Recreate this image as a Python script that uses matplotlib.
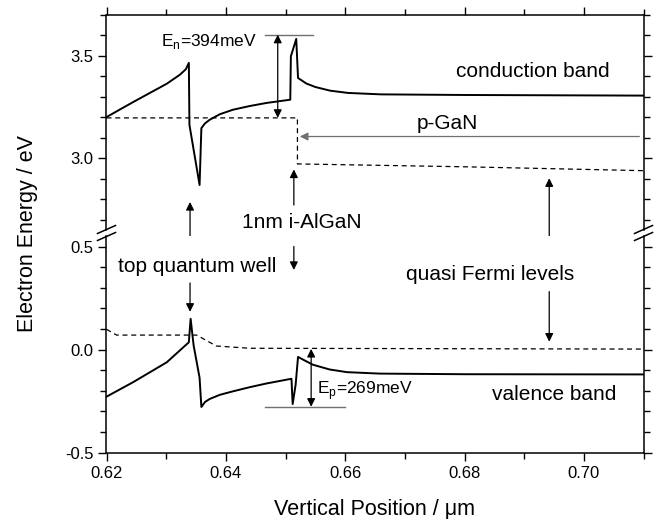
import matplotlib
matplotlib.use('Agg')
import matplotlib.pyplot as plt
from matplotlib.lines import Line2D
from matplotlib.ticker import MultipleLocator

plt.rcParams['font.family'] = ['Liberation Sans', 'DejaVu Sans']
plt.rcParams['mathtext.fontset'] = 'custom'
plt.rcParams['mathtext.rm'] = 'Liberation Sans'
plt.rcParams['axes.unicode_minus'] = False

# conduction band (eV) vs vertical position (um)
x_cb = [0.620, 0.6245, 0.6301, 0.6323, 0.6333, 0.6338, 0.6339, 0.6356, 0.6359,
        0.6365, 0.6373, 0.6390, 0.6412, 0.6440, 0.6468, 0.6508, 0.6509, 0.6518,
        0.6521, 0.6535, 0.6550, 0.6575, 0.6605, 0.6660, 0.6800, 0.7100]
e_cb = [3.201, 3.275, 3.364, 3.408, 3.435, 3.466, 3.163, 2.869, 3.147,
        3.170, 3.188, 3.215, 3.237, 3.255, 3.270, 3.286, 3.498, 3.583,
        3.392, 3.365, 3.348, 3.330, 3.319, 3.312, 3.309, 3.306]

# electron quasi Fermi level
x_fn = [0.620, 0.6520, 0.6520, 0.660, 0.680, 0.710]
e_fn = [3.197, 3.197, 2.972, 2.968, 2.958, 2.939]

# valence band
x_vb = [0.620, 0.6245, 0.6301, 0.6338, 0.6341, 0.6346, 0.6356, 0.6359, 0.6365,
        0.6373, 0.6390, 0.6412, 0.6440, 0.6468, 0.6510, 0.6512, 0.6517, 0.6521,
        0.6530, 0.6546, 0.6574, 0.6603, 0.6658, 0.6800, 0.7100]
e_vb = [-0.229, -0.158, -0.062, 0.035, 0.149, 0.020, -0.137, -0.279, -0.255,
        -0.240, -0.220, -0.203, -0.183, -0.165, -0.142, -0.265, -0.170, -0.036,
        -0.050, -0.074, -0.097, -0.110, -0.117, -0.120, -0.121]

# hole quasi Fermi level
x_fp = [0.620, 0.6217, 0.6351, 0.6368, 0.6384, 0.6440, 0.7100]
e_fp = [0.098, 0.070, 0.070, 0.043, 0.017, 0.006, 0.002]

W, H = 659, 519
fig = plt.figure(figsize=(W / 100, H / 100), dpi=100)

L, R = 106.5, 643.5
T, gap_top, gap_bot, B = 15, 230, 236, 452.5
ax_top = fig.add_axes([L / W, 1 - gap_top / H, (R - L) / W, (gap_top - T) / H])
ax_bot = fig.add_axes([L / W, 1 - B / H, (R - L) / W, (B - gap_bot) / H])

lw_band = 1.4
ax_top.plot(x_cb, e_cb, color='black', lw=lw_band)
ax_top.plot(x_fn, e_fn, color='black', lw=0.9, dashes=(4, 3))
ax_bot.plot(x_vb, e_vb, color='black', lw=lw_band)
ax_bot.plot(x_fp, e_fp, color='black', lw=0.9, dashes=(4, 3))

ax_top.set_ylim(2.649, 3.70)
ax_bot.set_ylim(-0.5, 0.551)
for ax in (ax_top, ax_bot):
    ax.set_xlim(0.62, 0.71)
    ax.xaxis.set_major_locator(MultipleLocator(0.02))
    ax.xaxis.set_minor_locator(MultipleLocator(0.01))
    ax.yaxis.set_major_locator(MultipleLocator(0.5))
    ax.yaxis.set_minor_locator(MultipleLocator(0.1))
    ax.tick_params(which='both', direction='out', width=1.0, labelsize=12,
                   left=True, right=True, labelright=False)
    ax.tick_params(which='major', length=6)
    ax.tick_params(which='minor', length=4)
    for s in ax.spines.values():
        s.set_linewidth(1.1)
ax_top.yaxis.set_major_formatter('{x:.1f}')
ax_bot.yaxis.set_major_formatter('{x:.1f}')
ax_bot.xaxis.set_major_formatter('{x:.2f}')
ax_top.tick_params(axis='x', which='both', bottom=False, top=True,
                   labelbottom=False)
ax_bot.tick_params(axis='x', which='both', bottom=True, top=False)
ax_top.spines['bottom'].set_visible(False)
ax_bot.spines['top'].set_visible(False)

# axis break marks
for xp in (L, R):
    for yc in (gap_top - 0.5, gap_bot + 0.5):
        fig.add_artist(Line2D([(xp - 9) / W, (xp + 9) / W],
                              [1 - (yc + 4) / H, 1 - (yc - 4) / H],
                              color='black', lw=1.1))

ax_bot.set_xlabel('Vertical Position / μm', fontsize=15.5, labelpad=13)
fig.text(27 / W, 1 - 233.5 / H, 'Electron Energy / eV', rotation=90,
         ha='center', va='center', fontsize=15.5)

txt = dict(fontsize=15, ha='center', va='center')
arr = dict(arrowstyle='-|>', color='black', lw=0.9, mutation_scale=12,
           shrinkA=0, shrinkB=0)
dbl = dict(arrowstyle='<|-|>', color='black', lw=0.9, mutation_scale=12,
           shrinkA=0, shrinkB=0)

ax_top.text(0.6772, 3.170, 'p-GaN', **txt)
ax_top.text(0.6915, 3.423, 'conduction band', **txt)
ax_bot.text(0.6951, -0.220, 'valence band', **txt)
ax_bot.text(0.6843, 0.362, 'quasi Fermi levels', **txt)
ax_bot.text(0.6352, 0.402, 'top quantum well', **txt)
ax_top.text(0.6528, 2.684, '1nm i-AlGaN', **txt)

# p-GaN arrow
ax_top.annotate('', xy=(0.6524, 3.106), xytext=(0.7093, 3.106),
                arrowprops=dict(arr, color='#707070'))
# quasi Fermi level arrows
ax_top.annotate('', xy=(0.6942, 2.902), xytext=(0.6942, 0.45),
                textcoords=ax_bot.transData, arrowprops=arr)
ax_bot.annotate('', xy=(0.6942, 0.038), xytext=(0.6942, 0.281), arrowprops=arr)
# top quantum well arrows
ax_top.annotate('', xy=(0.6340, 2.786), xytext=(0.6340, 0.493),
                textcoords=ax_bot.transData, arrowprops=arr)
ax_bot.annotate('', xy=(0.6340, 0.183), xytext=(0.6340, 0.323), arrowprops=arr)
# 1nm i-AlGaN arrows
ax_top.annotate('', xy=(0.6514, 2.945), xytext=(0.6514, 2.771), arrowprops=arr)
ax_bot.annotate('', xy=(0.6514, 0.386), xytext=(0.6514, 0.50), arrowprops=arr)

# E_n marker
ax_top.plot([0.6465, 0.6546], [3.604, 3.604], color='#707070', lw=1.0)
ax_top.annotate('', xy=(0.6487, 3.604), xytext=(0.6487, 3.197), arrowprops=dbl)
ax_top.text(0.6292, 3.547, r'E$_{\mathregular{n}}$=394meV', fontsize=12.5,
            ha='left', va='baseline')
# E_p marker
ax_bot.plot([0.6466, 0.6599], [-0.278, -0.278], color='#707070', lw=1.0)
ax_bot.annotate('', xy=(0.6543, 0.003), xytext=(0.6543, -0.278), arrowprops=dbl)
ax_bot.text(0.6552, -0.217, r'E$_{\mathregular{p}}$=269meV', fontsize=12.5,
            ha='left', va='baseline')

fig.savefig('out.png', dpi=100)
